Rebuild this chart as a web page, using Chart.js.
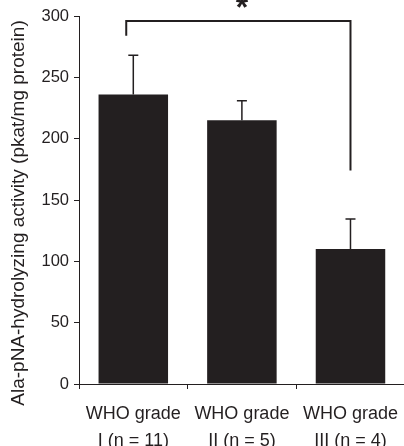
<!DOCTYPE html>
<html>
<head>
    <meta charset="utf-8">
    <title>Ala-pNA-hydrolyzing activity</title>
    <style>
        html, body { margin: 0; padding: 0; background: #fff; overflow: hidden; }
    </style>
</head>
<body>
    <canvas id="myChart" width="410" height="446"></canvas>

    <script src="https://cdn.jsdelivr.net/npm/chart.js"></script>

    <script>
        // data
        var categories = [['WHO grade', 'I (n = 11)'], ['WHO grade', 'II (n = 5)'], ['WHO grade', 'III (n = 4)']];
        var activity = [236, 215, 110];
        var activityErr = [32, 16, 24.5];
        var yTicks = [0, 50, 100, 150, 200, 250, 300];
        var yTitle = 'Ala-pNA-hydrolyzing activity (pkat/mg protein)';

        // significance bracket between grade I and grade III
        var bracketFrom = 0, bracketTo = 2;
        var bracketY = 296, bracketLeftEnd = 284, bracketRightEnd = 174;
        var bracketMark = '*';

        var ink = '#231f20';
        var fontFamily = '"Liberation Sans", Arial, Helvetica, sans-serif';

        // error bars (upper only), bracket, asterisk and y title
        const extras = {
            id: 'extras',
            afterDatasetsDraw(chart) {
                const ctx = chart.ctx;
                const x = chart.scales.x;
                const y = chart.scales.y;
                const meta = chart.getDatasetMeta(0);

                ctx.save();
                ctx.strokeStyle = ink;
                ctx.lineWidth = 1.5;
                meta.data.forEach(function(bar, i) {
                    var top = y.getPixelForValue(activity[i] + activityErr[i]);
                    ctx.beginPath();
                    ctx.moveTo(bar.x, bar.y);
                    ctx.lineTo(bar.x, top);
                    ctx.moveTo(bar.x - 5, top);
                    ctx.lineTo(bar.x + 5, top);
                    ctx.stroke();
                });

                // bracket
                var catW = x.getPixelForValue(1) - x.getPixelForValue(0);
                var xl = x.getPixelForValue(bracketFrom) - 0.065 * catW;
                var xr = x.getPixelForValue(bracketTo);
                ctx.lineWidth = 2;
                ctx.beginPath();
                ctx.moveTo(xl, y.getPixelForValue(bracketLeftEnd));
                ctx.lineTo(xl, y.getPixelForValue(bracketY));
                ctx.lineTo(xr, y.getPixelForValue(bracketY));
                ctx.lineTo(xr, y.getPixelForValue(bracketRightEnd));
                ctx.stroke();

                ctx.fillStyle = ink;
                ctx.font = 'bold 32px ' + fontFamily;
                ctx.textAlign = 'center';
                ctx.textBaseline = 'alphabetic';
                ctx.fillText(bracketMark, x.getPixelForValue(1), 18);

                // y title
                ctx.font = '19px ' + fontFamily;
                ctx.translate(19, 213);
                ctx.rotate(-Math.PI / 2);
                ctx.textBaseline = 'middle';
                ctx.fillText(yTitle, 0, 0);
                ctx.restore();
            }
        };

        const data = {
            labels: categories,
            datasets: [{
                data: activity,
                backgroundColor: ink,
                borderWidth: 0,
                categoryPercentage: 1,
                barPercentage: 0.64
            }]
        };

        const config = {
            type: 'bar',
            data: data,
            plugins: [extras],
            options: {
                responsive: false,
                animation: false,
                layout: { padding: { top: 16, right: 0, bottom: 0, left: 0 } },
                plugins: {
                    legend: { display: false },
                    tooltip: { enabled: false }
                },
                scales: {
                    x: {
                        offset: true,
                        grid: { offset: true, drawOnChartArea: false, tickLength: 5, color: ink, lineWidth: 1 },
                        border: { color: ink, width: 1 },
                        ticks: {
                            color: ink,
                            font: { family: fontFamily, size: 18, lineHeight: 1.5 },
                            padding: 12,
                            maxRotation: 0,
                            autoSkip: false
                        },
                        afterFit: function(scale) { scale.height = 62; }
                    },
                    y: {
                        min: 0,
                        max: 300,
                        afterBuildTicks: function(scale) {
                            scale.ticks = yTicks.map(function(v) { return { value: v }; });
                        },
                        grid: { drawOnChartArea: false, tickLength: 5, color: ink, lineWidth: 1 },
                        border: { color: ink, width: 1 },
                        ticks: {
                            color: ink,
                            font: { family: fontFamily, size: 16.5 },
                            padding: 5
                        },
                        afterFit: function(scale) { scale.width = 79; }
                    }
                }
            }
        };

        const myChart = new Chart(document.getElementById('myChart'), config);
    </script>
</body>
</html>
